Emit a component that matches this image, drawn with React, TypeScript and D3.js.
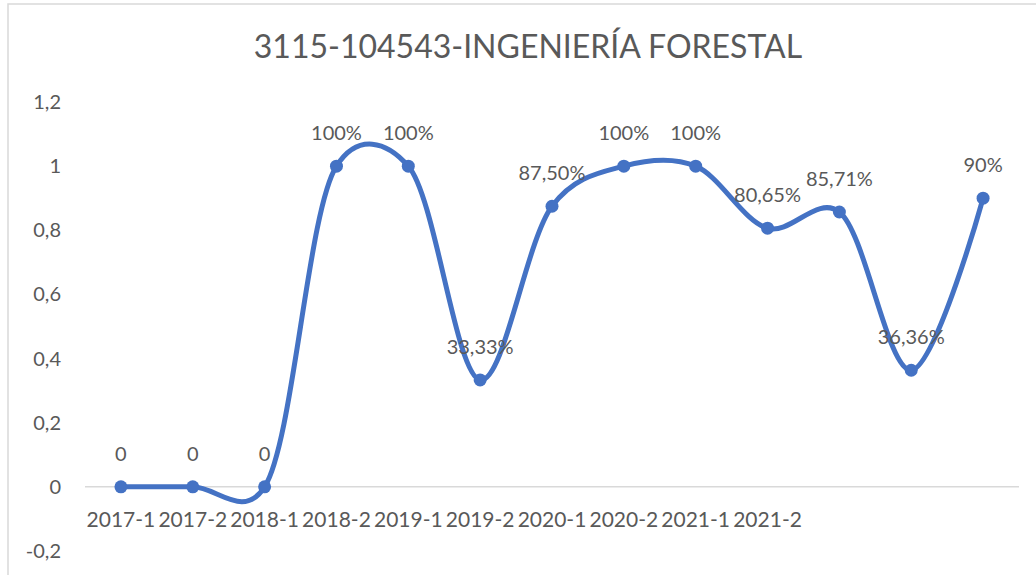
import React from "react";
import * as d3 from "d3";

const categories = ["2017-1","2017-2","2018-1","2018-2","2019-1","2019-2","2020-1","2020-2","2021-1","2021-2","","",""];
const values = [0, 0, 0, 1, 1, 0.3333, 0.875, 1, 1, 0.8065, 0.8571, 0.3636, 0.9];
const labels = ["0","0","0","100%","100%","33,33%","87,50%","100%","100%","80,65%","85,71%","36,36%","90%"];
const yTicks = [-0.2, 0, 0.2, 0.4, 0.6, 0.8, 1, 1.2];
const title = "3115-104543-INGENIERÍA FORESTAL";

const W = 1036, H = 575;
const FONT = "Lato, 'Open Sans', sans-serif";
const TXT = "#595959";

export default function App() {
  const x = d3.scaleBand<number>().domain(d3.range(categories.length)).range([85, 1019]);
  const y = d3.scaleLinear().domain([-0.2, 1.2]).range([551, 102]);
  const cx = (i: number) => (x(i) as number) + x.bandwidth() / 2;
  const line = d3.line<number>().x((_, i) => cx(i)).y(d => y(d)).curve(d3.curveCatmullRom.alpha(0.2));
  const fmt = (v: number) => String(Math.round(v * 10) / 10).replace(".", ",");
  return (
    <svg width={W} height={H} style={{ position: "absolute", left: 0, top: 0, background: "#fff" }}>
      <rect x={8} y={4} width={W} height={H} fill="#fff" stroke="#d9d9d9" strokeWidth={1.5} />
      <text x={528} y={58} textAnchor="middle" fontFamily={FONT} fontSize={32} fill={TXT}>{title}</text>
      {yTicks.map(t => (
        <text key={t} x={61} y={y(t)} dy="0.35em" textAnchor="end" fontFamily={FONT} fontSize={20} fill={TXT}>{fmt(t)}</text>
      ))}
      <line x1={85} x2={1019} y1={y(0)} y2={y(0)} stroke="#d9d9d9" strokeWidth={1.5} />
      {categories.map((c, i) => (
        <text key={i} x={cx(i)} y={527} textAnchor="middle" fontFamily={FONT} fontSize={21} fill={TXT}>{c}</text>
      ))}
      <path d={line(values) || ""} fill="none" stroke="#4472C4" strokeWidth={5} strokeLinecap="round" />
      {values.map((v, i) => (
        <circle key={i} cx={cx(i)} cy={y(v)} r={6.5} fill="#4472C4" />
      ))}
      {values.map((v, i) => (
        <text key={i} x={cx(i)} y={y(v) - 26} textAnchor="middle" fontFamily={FONT} fontSize={20} fill={TXT}>{labels[i]}</text>
      ))}
    </svg>
  );
}
